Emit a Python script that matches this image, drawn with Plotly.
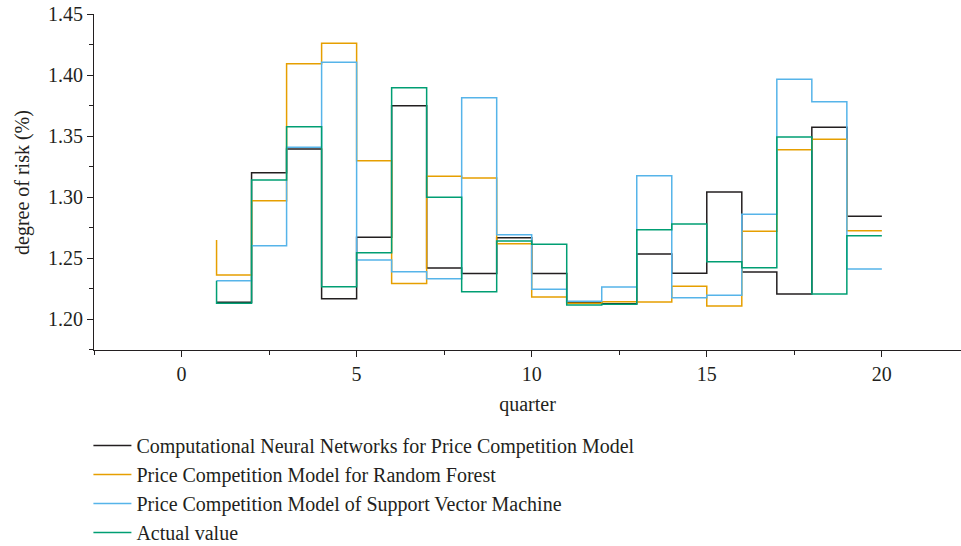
import plotly.graph_objects as go

quarters = list(range(1, 21))

cnn = [1.2137, 1.2137, 1.3199, 1.3393, 1.2166, 1.2670, 1.3749, 1.2418, 1.2374, 1.2666,
       1.2374, 1.2134, 1.2125, 1.2533, 1.2376, 1.3041, 1.2385, 1.2205, 1.3571, 1.2842]
rf = [1.2647, 1.2361, 1.2970, 1.4093, 1.4260, 1.3298, 1.2292, 1.3170, 1.3155, 1.2617,
      1.2180, 1.2129, 1.2142, 1.2139, 1.2268, 1.2106, 1.2719, 1.3388, 1.3473, 1.2724]
svm = [1.2314, 1.2314, 1.2601, 1.3407, 1.4104, 1.2484, 1.2388, 1.2331, 1.3814, 1.2691,
       1.2243, 1.2145, 1.2262, 1.3175, 1.2174, 1.2194, 1.2858, 1.3965, 1.3781, 1.2410]
actual = [1.2314, 1.2129, 1.3139, 1.3576, 1.2265, 1.2543, 1.3896, 1.2997, 1.2224, 1.2639,
          1.2612, 1.2115, 1.2120, 1.2731, 1.2779, 1.2470, 1.2420, 1.3492, 1.2205, 1.2683]

names = ["Computational Neural Networks for Price Competition Model",
         "Price Competition Model for Random Forest",
         "Price Competition Model of Support Vector Machine",
         "Actual value"]
colors = ["#231F20", "#E69F00", "#56B4E9", "#009E73"]
x_title = "quarter"
y_title = "degree of risk (%)"

FONT = "Liberation Serif"

fig = go.Figure()
for name, ys, c in zip(names, [cnn, rf, svm, actual], colors):
    fig.add_trace(go.Scatter(x=quarters, y=ys, mode="lines", name=name,
                             line=dict(color=c, width=1.5, shape="vh")))

axis_common = dict(showline=True, linecolor="#231F20", linewidth=1, showgrid=False,
                   zeroline=False, ticks="outside", ticklen=6, tickwidth=1,
                   tickcolor="#231F20", tickfont=dict(family=FONT, size=20, color="#231F20"))

fig.update_xaxes(range=[-2.5, 22.26], tick0=0, dtick=5,
                 title=dict(text=x_title, font=dict(family=FONT, size=20, color="#231F20"), standoff=12),
                 minor=dict(dtick=2.5, tick0=0, ticks="outside", ticklen=4, tickcolor="#231F20"),
                 **axis_common)
fig.update_yaxes(range=[1.1746, 1.45], tick0=1.2, dtick=0.05, tickformat=".2f",
                 minor=dict(dtick=0.025, tick0=1.2, ticks="outside", ticklen=4, tickcolor="#231F20"),
                 **axis_common)

fig.add_annotation(text=y_title, xref="paper", yref="paper", x=-94 / 867 + 22 / 867, y=(350 - 182) / 336,
                   textangle=-90, showarrow=False, xanchor="center", yanchor="middle",
                   font=dict(family=FONT, size=20, color="#231F20"))

fig.update_layout(
    width=961, height=546,
    margin=dict(l=94, r=0, t=14, b=196, autoexpand=False),
    plot_bgcolor="white", paper_bgcolor="white",
    font=dict(family=FONT, size=20, color="#231F20"),
    legend=dict(xref="container", yref="container", x=0.092, y=1 - 426 / 546,
                xanchor="left", yanchor="top", font=dict(family=FONT, size=20, color="#231F20"),
                bgcolor="rgba(0,0,0,0)", itemwidth=38),
    showlegend=True,
)

fig.write_html("out.html")
